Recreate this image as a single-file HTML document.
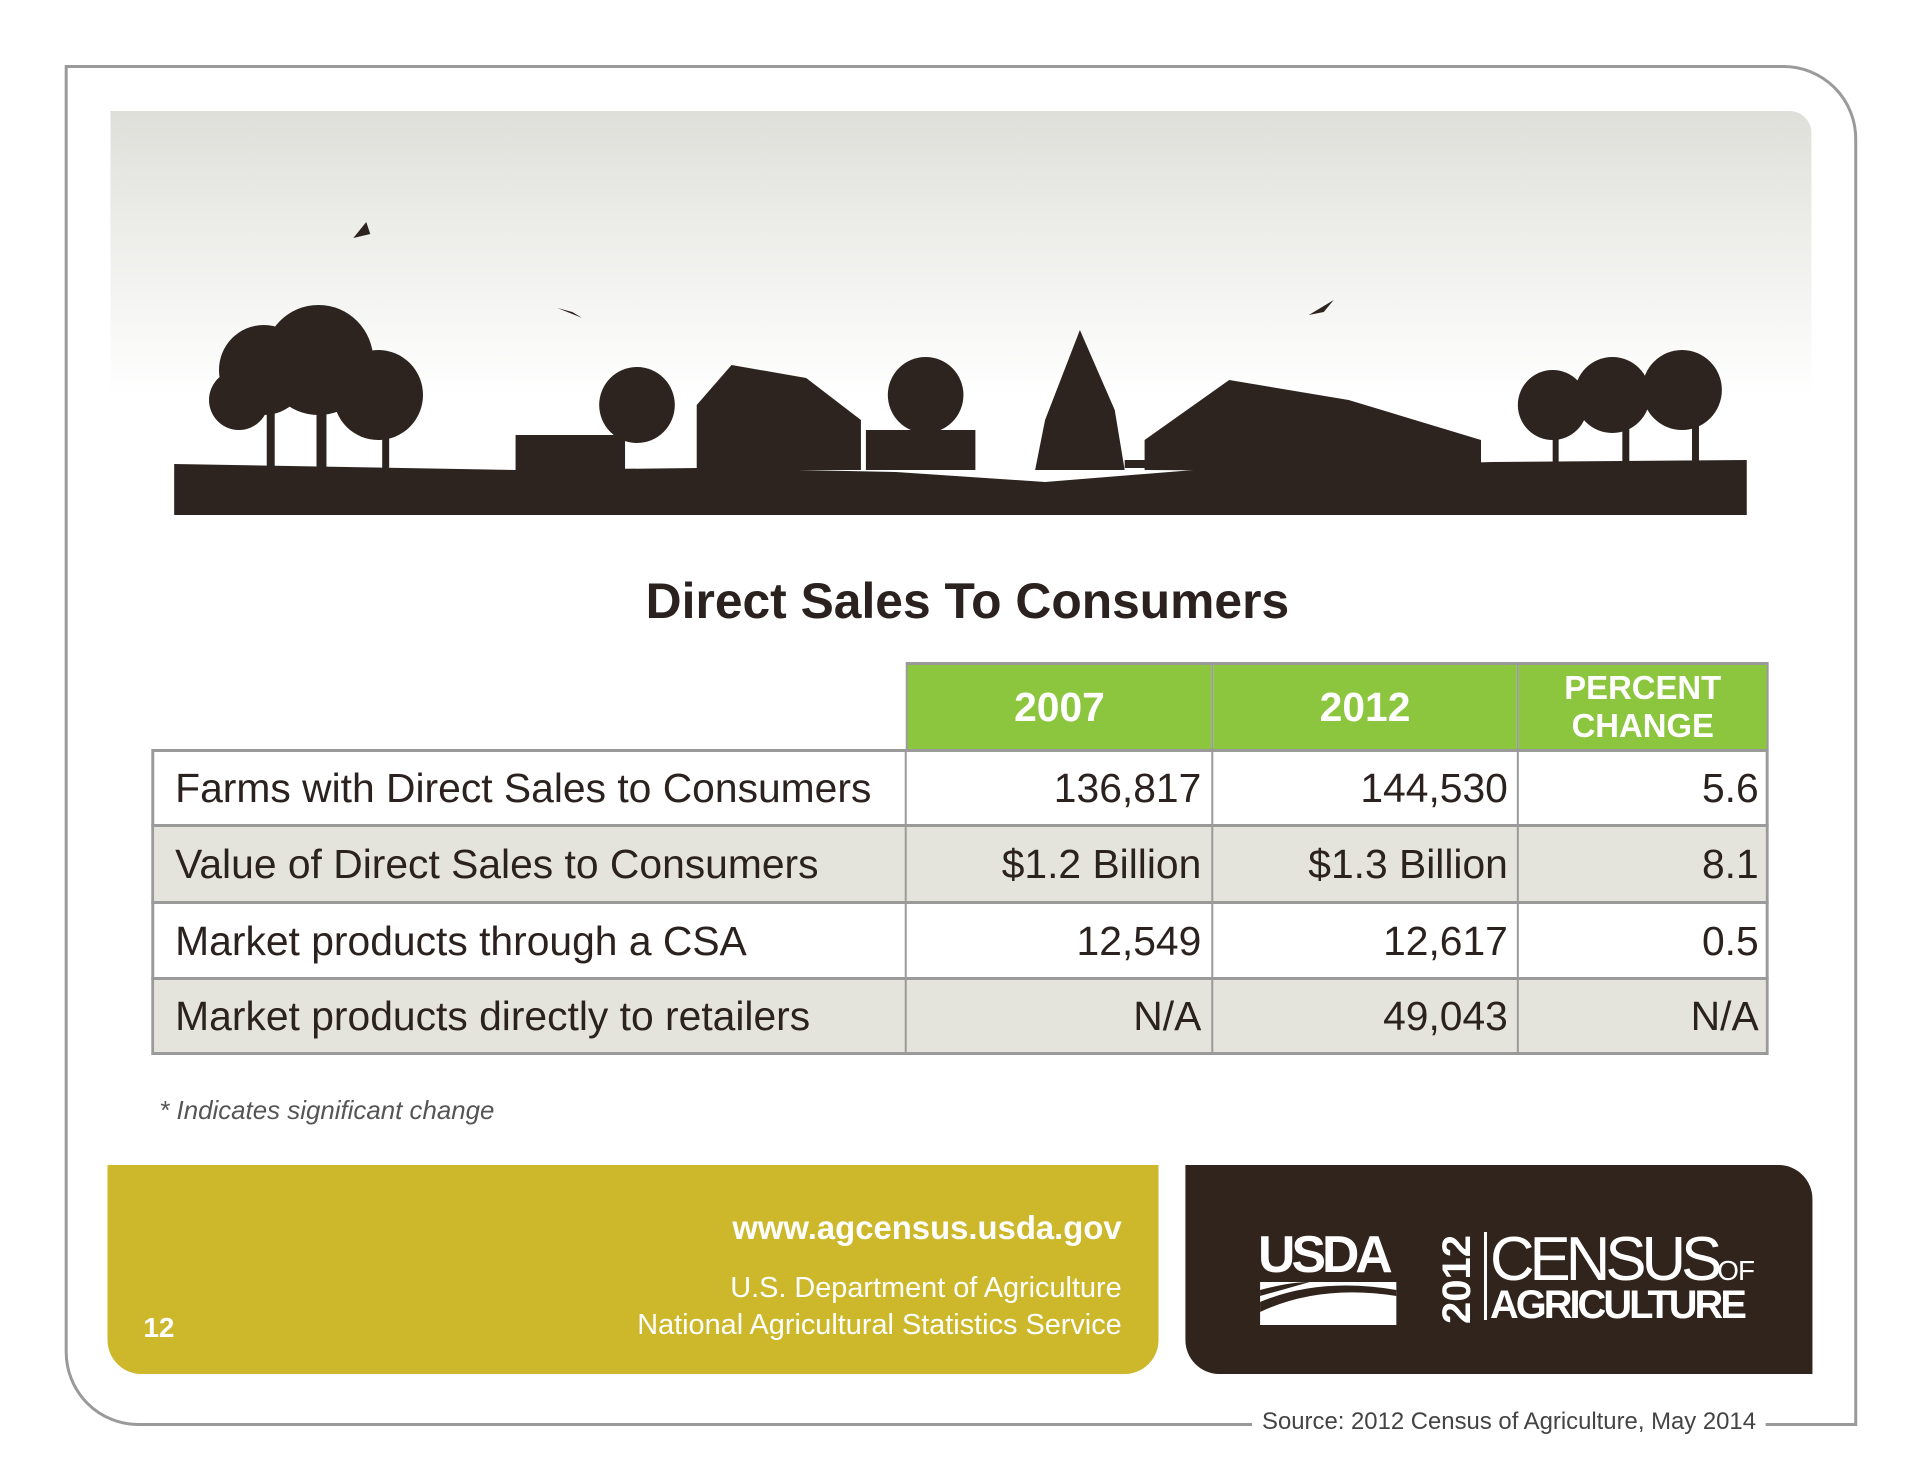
<!DOCTYPE html>
<html><head><meta charset="utf-8"><style>
body{margin:0;width:1920px;height:1484px;background:#fff;position:relative;font-family:"Liberation Sans",sans-serif;overflow:hidden}
#wrap{position:absolute;left:0;top:0;width:1920px;height:1484px;transform:scaleX(0.9953);transform-origin:0 0}
.abs{position:absolute}
.cell{position:absolute;box-sizing:border-box;font-size:41px;color:#2b2220;display:flex;align-items:center}
.hd{color:#fff;font-weight:bold;justify-content:center;background:#8cc63f}
.num{justify-content:flex-end;padding-right:10px}
.lab{padding-left:24px}
</style></head><body>
<div id="wrap">
<div class="abs" style="left:65px;top:65px;width:1801px;height:1361px;box-sizing:border-box;border:3px solid #9a9a9a;border-radius:0 74px 0 74px"></div>
<div class="abs" style="left:111px;top:111px;width:1709px;height:406px;border-radius:0 22px 0 0;background:linear-gradient(#dfdfda 0%,#efefec 35%,#ffffff 70%)"></div>
<svg class="abs" style="left:0;top:0" width="1920" height="560">
<g fill="#2e241f">
<polygon points="175,464 520,470 700,468 900,472 1050,482 1200,470 1500,462 1755,460 1755,515 175,515"/>
<circle cx="265" cy="370" r="45"/><circle cx="320" cy="360" r="55"/><circle cx="380" cy="395" r="45"/><circle cx="240" cy="400" r="30"/>
<rect x="268" y="400" width="8" height="70"/><rect x="318" y="400" width="10" height="70"/><rect x="384" y="410" width="7" height="60"/>
<rect x="518" y="435" width="110" height="35"/>
<circle cx="640" cy="405" r="38"/>
<polygon points="700,470 700,405 735,365 810,378 865,420 865,470"/>
<rect x="870" y="430" width="110" height="40"/>
<circle cx="930" cy="395" r="38"/>
<polygon points="1085,330 1050,420 1040,470 1130,470 1120,410"/>
<polygon points="1150,470 1150,440 1235,380 1355,400 1488,440 1488,472"/>
<rect x="1130" y="460" width="130" height="8"/>
<circle cx="1560" cy="405" r="35"/><circle cx="1620" cy="395" r="38"/><circle cx="1690" cy="390" r="40"/>
<rect x="1560" y="420" width="6" height="50"/><rect x="1630" y="420" width="7" height="50"/><rect x="1700" y="420" width="7" height="45"/>
<polygon points="355,238 368,222 372,234"/><polygon points="560,308 585,318 575,312"/><polygon points="1315,315 1340,300 1330,312"/>
</g></svg>
<div class="abs" style="left:0;width:1944px;top:572px;text-align:center;font-size:50px;font-weight:bold;color:#2b2220">Direct Sales To Consumers</div>

<div>
<div class="abs" style="left:910px;top:662px;width:867px;height:89px;border:3px solid #9a9a9a;box-sizing:border-box"></div>
<div class="cell hd" style="left:912px;top:665px;width:305px;height:84px">2007</div>
<div class="cell hd" style="left:1219px;top:665px;width:305px;height:84px">2012</div>
<div class="cell hd" style="left:1526px;top:665px;width:249px;height:84px;font-size:33px;line-height:38px;text-align:center">PERCENT<br>CHANGE</div>

<div class="abs" style="left:152px;top:749px;width:1625px;height:306px;border:3px solid #9a9a9a;box-sizing:border-box;background:#fff"></div>
<div class="abs" style="left:155px;top:827px;width:1619px;height:74px;background:#e5e4dc"></div>
<div class="abs" style="left:155px;top:979px;width:1619px;height:73px;background:#e5e4dc"></div>
<div class="abs" style="left:152px;top:824px;width:1625px;height:3px;background:#9a9a9a"></div>
<div class="abs" style="left:152px;top:901px;width:1625px;height:3px;background:#9a9a9a"></div>
<div class="abs" style="left:152px;top:977px;width:1625px;height:3px;background:#9a9a9a"></div>
<div class="abs" style="left:909px;top:749px;width:2px;height:306px;background:#9a9a9a"></div>
<div class="abs" style="left:1217px;top:665px;width:2px;height:390px;background:#9a9a9a"></div>
<div class="abs" style="left:1524px;top:665px;width:2px;height:390px;background:#9a9a9a"></div>

<div class="cell lab" style="left:152px;top:751px;width:758px;height:74px">Farms with Direct Sales to Consumers</div>
<div class="cell num" style="left:910px;top:751px;width:307px;height:74px">136,817</div>
<div class="cell num" style="left:1218px;top:751px;width:307px;height:74px">144,530</div>
<div class="cell num" style="left:1525px;top:751px;width:252px;height:74px">5.6</div>

<div class="cell lab" style="left:152px;top:827px;width:758px;height:74px">Value of Direct Sales to Consumers</div>
<div class="cell num" style="left:910px;top:827px;width:307px;height:74px">$1.2 Billion</div>
<div class="cell num" style="left:1218px;top:827px;width:307px;height:74px">$1.3 Billion</div>
<div class="cell num" style="left:1525px;top:827px;width:252px;height:74px">8.1</div>

<div class="cell lab" style="left:152px;top:904px;width:758px;height:74px">Market products through a CSA</div>
<div class="cell num" style="left:910px;top:904px;width:307px;height:74px">12,549</div>
<div class="cell num" style="left:1218px;top:904px;width:307px;height:74px">12,617</div>
<div class="cell num" style="left:1525px;top:904px;width:252px;height:74px">0.5</div>

<div class="cell lab" style="left:152px;top:980px;width:758px;height:73px">Market products directly to retailers</div>
<div class="cell num" style="left:910px;top:980px;width:307px;height:73px">N/A</div>
<div class="cell num" style="left:1218px;top:980px;width:307px;height:73px">49,043</div>
<div class="cell num" style="left:1525px;top:980px;width:252px;height:73px">N/A</div>
</div>

<div class="abs" style="left:160px;top:1095px;font-size:26px;font-style:italic;color:#555">* Indicates significant change</div>

<div class="abs" style="left:108px;top:1165px;width:1056px;height:209px;background:#cdb82c;border-radius:0 0 34px 34px"></div>
<div class="abs" style="left:144px;top:1312px;font-size:28px;font-weight:bold;color:#fff">12</div>
<div class="abs" style="right:793px;top:1209px;font-size:33px;font-weight:bold;color:#fff">www.agcensus.usda.gov</div>
<div class="abs" style="right:793px;top:1270px;font-size:29px;color:#fff;text-align:right;line-height:37px">U.S. Department of Agriculture<br>National Agricultural Statistics Service</div>

<div class="abs" style="left:1191px;top:1165px;width:630px;height:209px;background:#30241c;border-radius:0 34px 0 34px"></div>
<div class="abs" style="left:1264px;top:1225px;font-size:52px;font-weight:bold;color:#fff;letter-spacing:-4px">USDA</div>
<svg class="abs" style="left:1266px;top:1282px" width="137" height="43"><rect width="137" height="43" fill="#fff"/><path d="M0,20 Q60,-5 137,8 L137,14 Q60,2 0,30Z" fill="#30241c"/><path d="M0,8 Q30,0 50,0 L0,14Z" fill="#30241c"/></svg>
<div class="abs" style="left:1420px;top:1257px;font-size:40px;font-weight:bold;color:#fff;transform:rotate(-90deg)">2012</div>
<div class="abs" style="left:1491px;top:1232px;width:3px;height:88px;background:#fff"></div>
<div class="abs" style="left:1497px;top:1224px;font-size:62px;color:#fff;letter-spacing:-5px">CENSUS<span style="font-size:28px;letter-spacing:-1px">OF</span></div>
<div class="abs" style="left:1497px;top:1283px;font-size:40px;font-weight:bold;color:#fff;letter-spacing:-3px">AGRICULTURE</div>

<div class="abs" style="left:1258px;top:1408px;padding:0 10px;background:#fff;font-size:24px;color:#444">Source: 2012 Census of Agriculture, May 2014</div>
</div>
</body></html>
